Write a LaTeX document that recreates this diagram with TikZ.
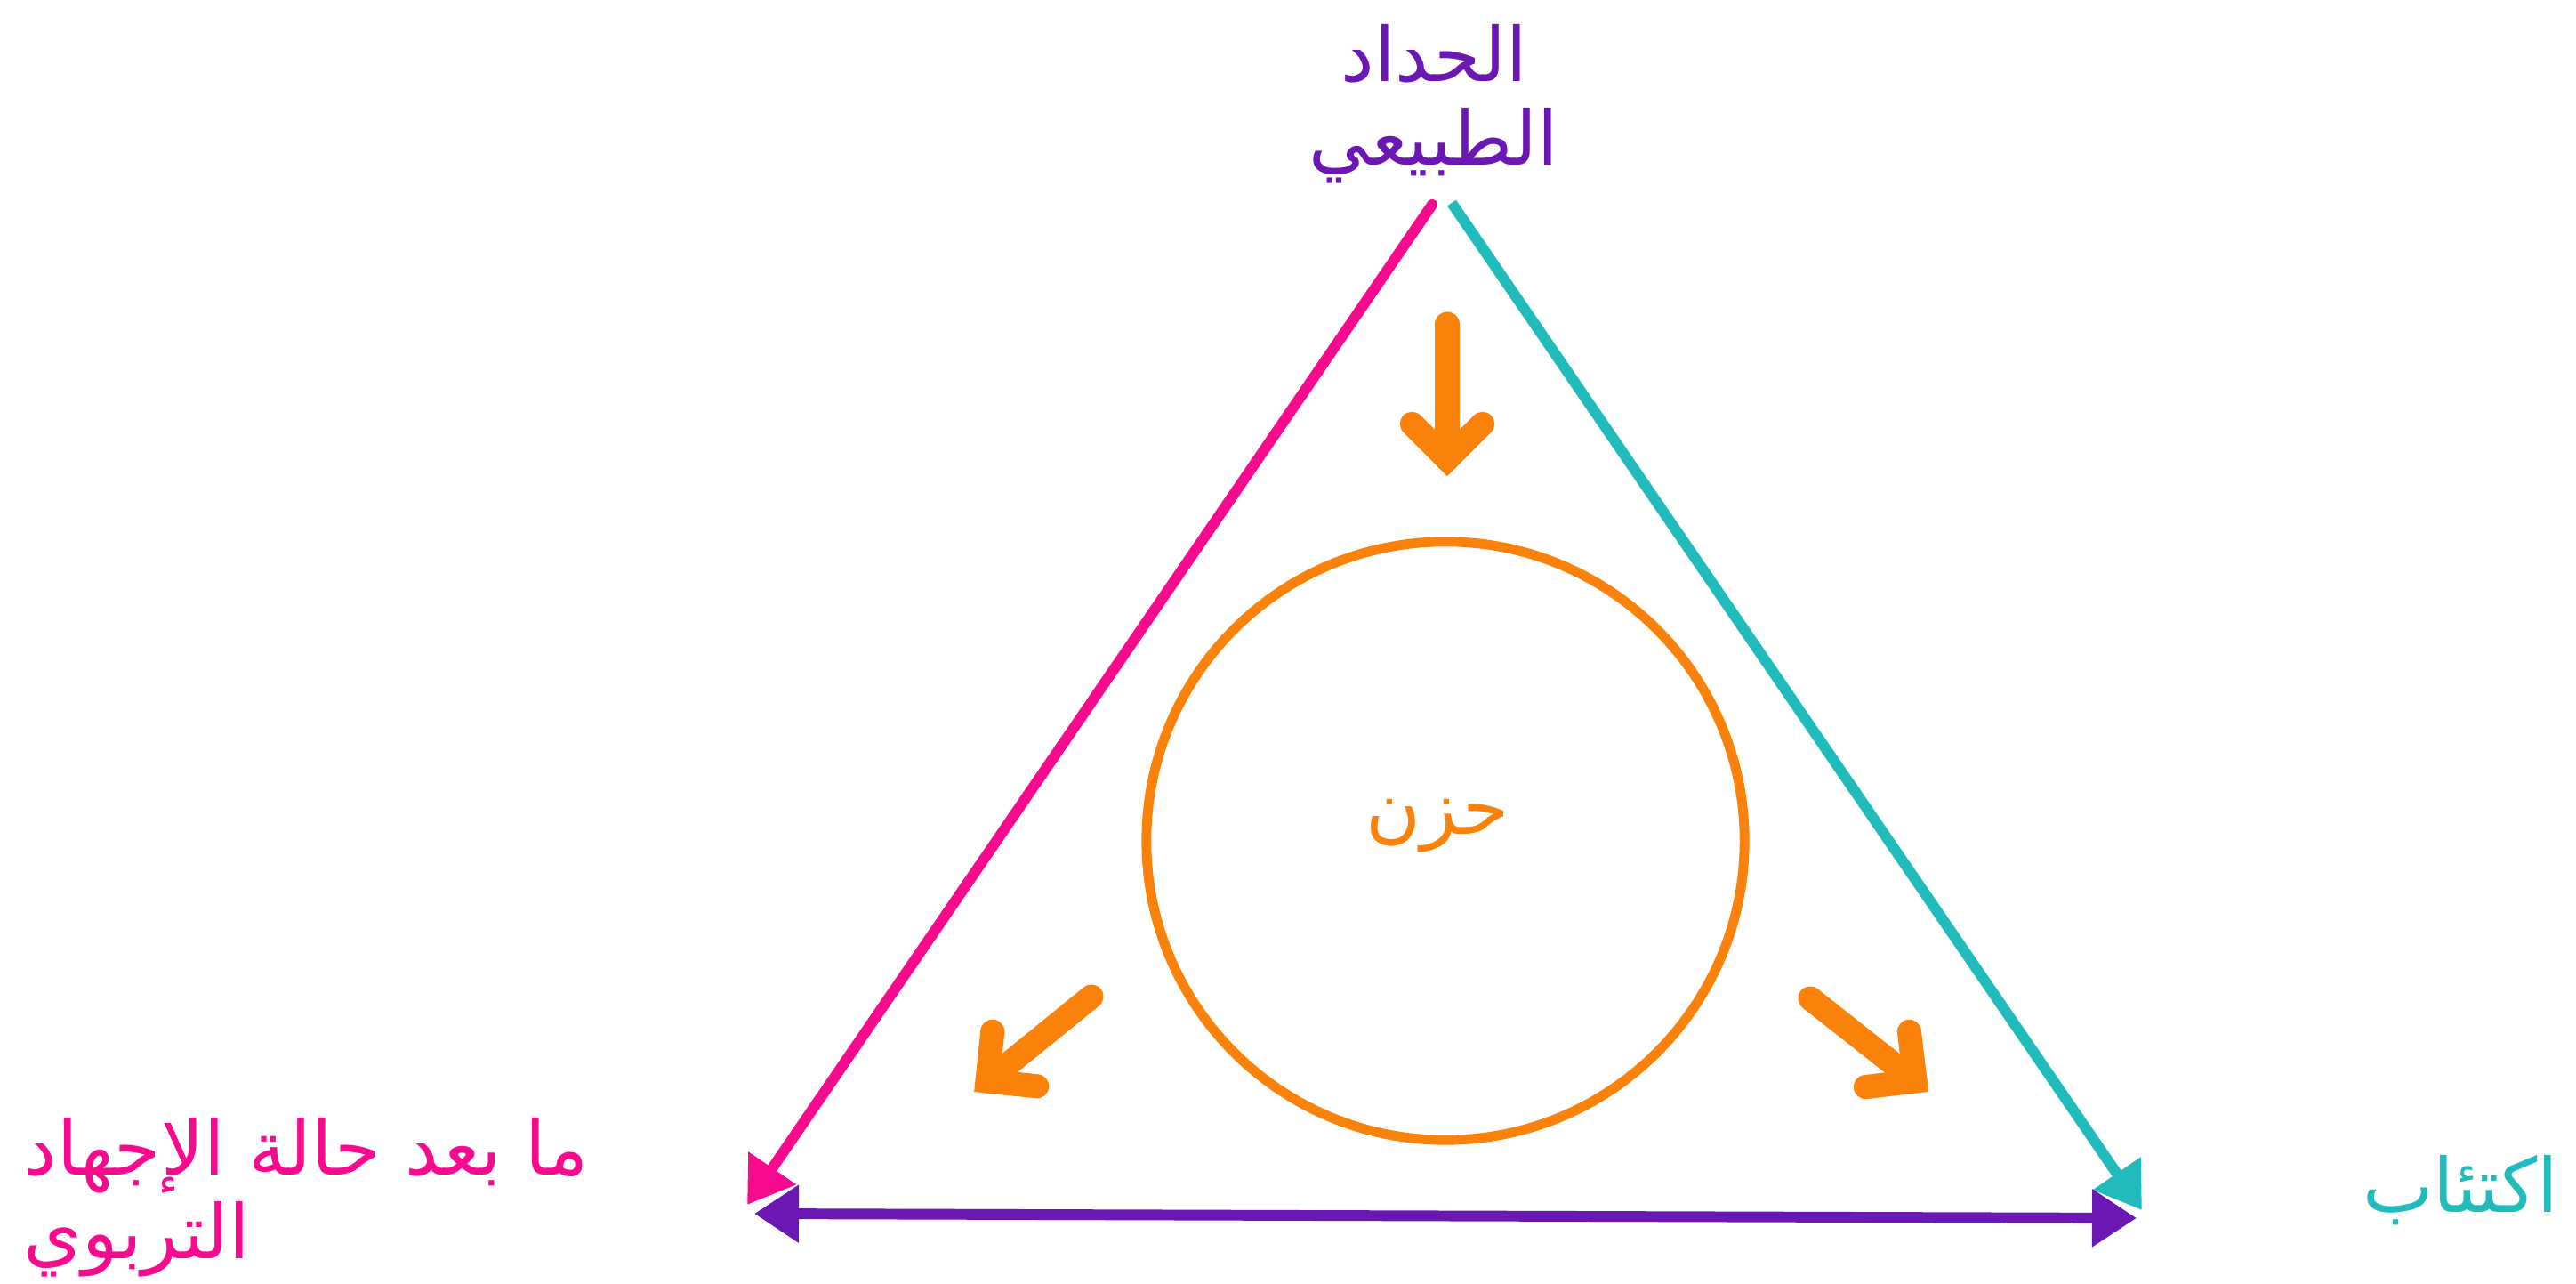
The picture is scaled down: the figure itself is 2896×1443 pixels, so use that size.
\documentclass[tikz,border=0pt]{standalone}
\usepackage{fontspec}
\usepackage{xcolor}
\usepackage{tikz}
\usetikzlibrary{positioning, arrows.meta, calc}
\newfontfamily\arabicfont[Script=Arabic]{DejaVu Sans}
\TeXXeTstate=1
\definecolor{gviolet}{HTML}{6A17B3}
\definecolor{gpink}{HTML}{F70A8D}
\definecolor{gteal}{HTML}{22BBBB}
\definecolor{gorange}{HTML}{FA820B}

\tikzset{
  stage/.style={font=\arabicfont\fontsize{24}{26.5}\selectfont, inner sep=0pt},
  side/.style={line width=3.4pt},
  spoke/.style={gorange, line width=7.7pt, line cap=round, line join=miter},
}

\begin{document}
\begin{tikzpicture}[x=0.01cm, y=-0.01cm,
    >={Triangle[length=0.5cm, width=0.62cm]}]
  \useasboundingbox (0,0) rectangle (2896,1443);

  % stages
  \node[stage, gviolet, align=center, anchor=north] (natural) at (1612,27)
    {\beginR الحداد\endR\\\beginR الطبيعي\endR};
  \node[stage, gpink, align=left, anchor=north west] (stress) at (26,1256)
    {\beginR ما بعد حالة الإجهاد\endR\\\beginR التربوي\endR};
  \node[stage, gteal, anchor=north] (depression) at (2766,1298)
    {\beginR اكتئاب\endR};

  % grief in the middle
  \node[circle, draw=gorange, line width=3.1pt, minimum size=6.72cm,
        inner sep=0pt] (grief) at (1625,945) {};
  \node[stage, gorange] (griefword) at (1616,928) {\beginR حزن\endR};

  % sides of the triangle
  \coordinate (naturalL) at (1610,230);
  \coordinate (naturalR) at (1632,228);
  \coordinate (stressT) at (840,1354);
  \coordinate (stressR) at (848,1364);
  \coordinate (depressionT) at (2408,1360);
  \coordinate (depressionL) at (2402,1369);

  \draw[side, gpink, line cap=round, ->] (naturalL) -- (stressT);
  \draw[side, gteal, ->] (naturalR) -- (depressionT);
  \draw[side, gviolet, <->] (stressR) -- (depressionL);

  % orange arrows around the circle
  \coordinate (s1) at (1627,364);  \coordinate (t1) at (1627,516);
  \coordinate (s2) at (1227,1120); \coordinate (t2) at (1110,1215);
  \coordinate (s3) at (2035,1122); \coordinate (t3) at (2153,1215);
  \foreach \i in {1,2,3} {
    \draw[spoke] (s\i) -- (t\i);
    \draw[spoke] ($(t\i)!0.56cm!45:(s\i)$) -- (t\i) -- ($(t\i)!0.56cm!-45:(s\i)$);
  }
\end{tikzpicture}
\end{document}
